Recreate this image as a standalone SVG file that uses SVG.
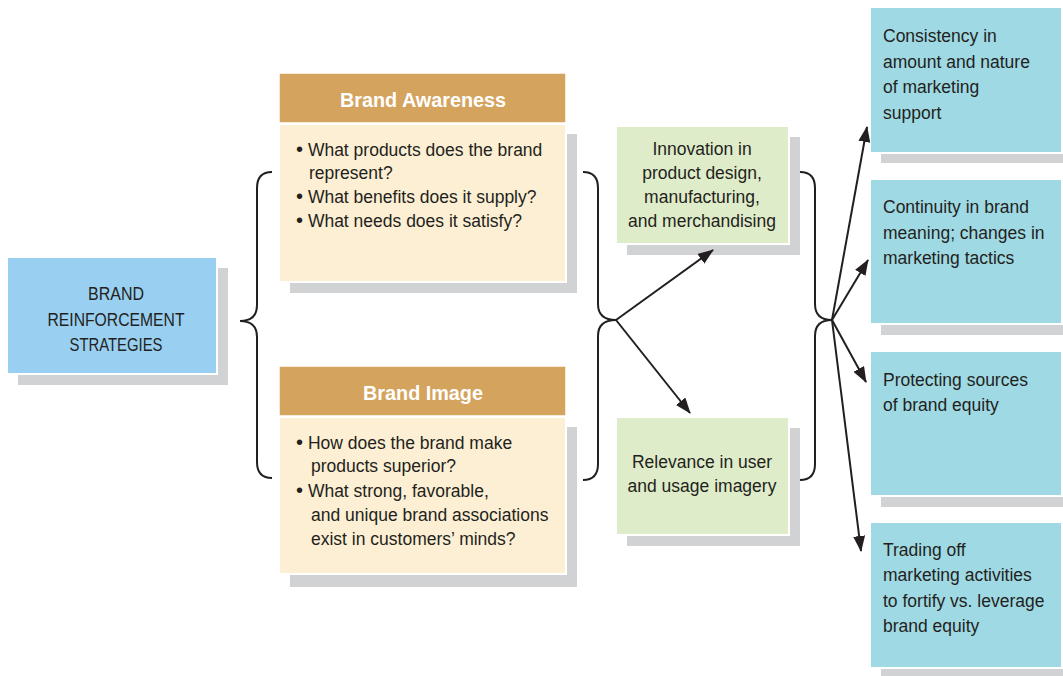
<svg xmlns="http://www.w3.org/2000/svg" width="1063" height="676" viewBox="0 0 1063 676">
<defs>
<style>
.sh{fill:#d1d2d4}
.bd{stroke:#ffffff;stroke-width:2}
.t{font-family:"Liberation Sans",Arial,sans-serif;font-size:17.5px;fill:#231f20}
.c{text-anchor:middle}
.b{font-size:20px}
.h{font-family:"Liberation Sans",Arial,sans-serif;font-size:19.8px;font-weight:bold;fill:#ffffff;text-anchor:middle}
.ln{fill:none;stroke:#231f20;stroke-width:2}
</style>
<marker id="a" viewBox="0 0 16 12" refX="15" refY="6" markerWidth="16" markerHeight="12" markerUnits="userSpaceOnUse" orient="auto">
<path d="M0,0 L16,6 L0,12 Z" fill="#231f20"/>
</marker>
</defs>
<rect width="1063" height="676" fill="#ffffff"/>

<g id="brand-reinforcement">
<rect class="sh" x="18" y="268" width="210" height="117"/>
<rect class="bd" x="7" y="257" width="210" height="117" fill="#99cff0"/>
<text class="t c" x="116" y="300" style="font-size:18px" textLength="56" lengthAdjust="spacingAndGlyphs">BRAND</text>
<text class="t c" x="116" y="326" style="font-size:18px" textLength="137" lengthAdjust="spacingAndGlyphs">REINFORCEMENT</text>
<text class="t c" x="116" y="351" style="font-size:18px" textLength="93" lengthAdjust="spacingAndGlyphs">STRATEGIES</text>
</g>

<g id="brand-awareness">
<rect class="sh" x="290" y="134" width="287" height="159"/>
<rect x="279" y="73" width="287" height="50" fill="#d4a35e" stroke="#ffffff" stroke-width="1.5"/>
<rect class="bd" x="279" y="124" width="287" height="158" fill="#fdefd3"/>
<text class="h" x="423" y="107">Brand Awareness</text>
<text class="t" x="296" y="156"><tspan class="b">•</tspan> What products does the brand</text>
<text class="t" x="309" y="179">represent?</text>
<text class="t" x="296" y="203"><tspan class="b">•</tspan> What benefits does it supply?</text>
<text class="t" x="296" y="227"><tspan class="b">•</tspan> What needs does it satisfy?</text>
</g>

<g id="brand-image">
<rect class="sh" x="290" y="427" width="287" height="160"/>
<rect x="279" y="366" width="287" height="50" fill="#d4a35e" stroke="#ffffff" stroke-width="1.5"/>
<rect class="bd" x="279" y="417" width="287" height="157" fill="#fdefd3"/>
<text class="h" x="423" y="400">Brand Image</text>
<text class="t" x="296" y="449"><tspan class="b">•</tspan> How does the brand make</text>
<text class="t" x="311" y="472">products superior?</text>
<text class="t" x="296" y="497"><tspan class="b">•</tspan> What strong, favorable,</text>
<text class="t" x="311" y="521">and unique brand associations</text>
<text class="t" x="311" y="545">exist in customers’ minds?</text>
</g>

<g id="innovation">
<rect class="sh" x="627" y="137" width="173" height="118"/>
<rect class="bd" x="616" y="126" width="173" height="118" fill="#dfecc9"/>
<text class="t c" x="702" y="155">Innovation in</text>
<text class="t c" x="702" y="179">product design,</text>
<text class="t c" x="702" y="203">manufacturing,</text>
<text class="t c" x="702" y="227">and merchandising</text>
</g>

<g id="relevance">
<rect class="sh" x="627" y="428" width="173" height="118"/>
<rect class="bd" x="616" y="417" width="173" height="118" fill="#dfecc9"/>
<text class="t c" x="702" y="468">Relevance in user</text>
<text class="t c" x="702" y="492">and usage imagery</text>
</g>

<g id="consistency">
<rect class="sh" x="881" y="18" width="182" height="145"/>
<rect class="bd" x="870" y="7" width="192" height="146" fill="#9fd9e4"/>
<text class="t" x="883" y="42">Consistency in</text>
<text class="t" x="883" y="68">amount and nature</text>
<text class="t" x="883" y="93">of marketing</text>
<text class="t" x="883" y="119">support</text>
</g>

<g id="continuity">
<rect class="sh" x="881" y="190" width="182" height="145"/>
<rect class="bd" x="870" y="179" width="192" height="145" fill="#9fd9e4"/>
<text class="t" x="883" y="213">Continuity in brand</text>
<text class="t" x="883" y="239">meaning; changes in</text>
<text class="t" x="883" y="264">marketing tactics</text>
</g>

<g id="protecting">
<rect class="sh" x="881" y="362" width="182" height="145"/>
<rect class="bd" x="870" y="351" width="192" height="145" fill="#9fd9e4"/>
<text class="t" x="883" y="386">Protecting sources</text>
<text class="t" x="883" y="411">of brand equity</text>
</g>

<g id="trading">
<rect class="sh" x="881" y="533" width="182" height="143"/>
<rect class="bd" x="870" y="522" width="192" height="146" fill="#9fd9e4"/>
<text class="t" x="883" y="556">Trading off</text>
<text class="t" x="883" y="581">marketing activities</text>
<text class="t" x="883" y="607">to fortify vs. leverage</text>
<text class="t" x="883" y="632">brand equity</text>
</g>

<g id="connectors">
<path class="ln" d="M272 172 Q257 172 257 188 L257 305 Q257 321 240 321 Q257 321 257 337 L257 462 Q257 478 272 478"/>
<path class="ln" d="M583 172 Q598 172 598 188 L598 304 Q598 320 616 320 Q598 320 598 336 L598 464 Q598 480 583 480"/>
<path class="ln" d="M800 172 Q815 172 815 188 L815 304 Q815 320 832 320 Q815 320 815 336 L815 464 Q815 480 800 480"/>
<line class="ln" x1="616" y1="320" x2="713" y2="250" marker-end="url(#a)"/>
<line class="ln" x1="616" y1="320" x2="690" y2="413" marker-end="url(#a)"/>
<line class="ln" x1="832" y1="320" x2="867" y2="127" marker-end="url(#a)"/>
<line class="ln" x1="832" y1="320" x2="868" y2="260" marker-end="url(#a)"/>
<line class="ln" x1="832" y1="320" x2="866" y2="382" marker-end="url(#a)"/>
<line class="ln" x1="832" y1="320" x2="861" y2="551" marker-end="url(#a)"/>
</g>
</svg>
